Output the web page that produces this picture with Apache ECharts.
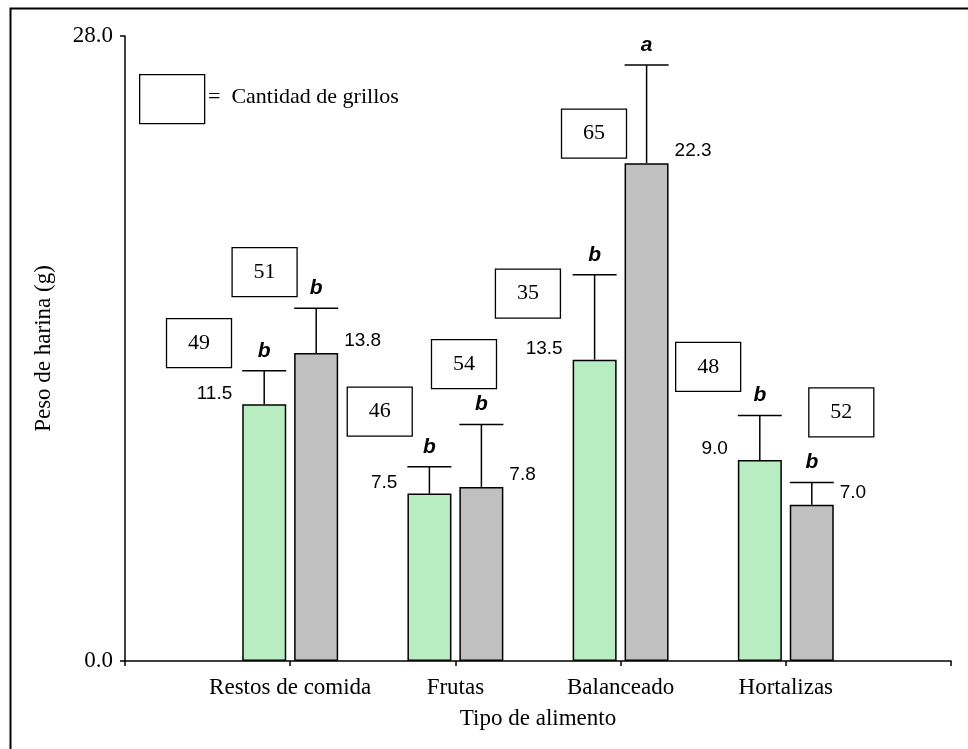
<!DOCTYPE html>
<html>
<head>
<meta charset="utf-8">
<script src="https://cdn.jsdelivr.net/npm/echarts@6/dist/echarts.min.js"></script>
<style>
  html, body { margin: 0; padding: 0; background: #fff; }
  #chart { width: 968px; height: 749px; }
</style>
</head>
<body>
<div id="chart"></div>
<script>
// Food types on the x axis
const categories = ['Restos de comida', 'Frutas', 'Balanceado', 'Hortalizas'];
// Mean flour weight (g) for each group
const greenMeans = [11.5, 7.5, 13.5, 9.0];
const grayMeans = [13.8, 7.8, 22.3, 7.0];
// Upper error (g)
const greenErr = [1.5, 1.2, 3.8, 2.0];
const grayErr = [2.0, 2.8, 4.4, 1.0];
// Significance letters
const greenLetters = ['b', 'b', 'b', 'b'];
const grayLetters = ['b', 'b', 'a', 'b'];
// Number of crickets per bar
const greenCounts = [49, 46, 35, 48];
const grayCounts = [51, 54, 65, 52];
// Y axis range
const yTicks = [0, 28];

// Where each count box sits, in axis units [category position, weight]
const greenBoxAt = [[0.448, 14.24], [1.542, 11.17], [2.439, 16.46], [3.530, 13.18]];
const grayBoxAt = [[0.845, 17.42], [2.052, 13.30], [2.839, 23.63], [4.336, 11.14]];

const axisCats = [''].concat(categories, ['']);
const BAR_W = 44;
const HALF_PAIR = 26; // distance from tick to each bar centre
const serif = 'Liberation Serif';
const sans = 'Liberation Sans';

const chart = echarts.init(document.getElementById('chart'), null, { renderer: 'canvas' });

function barData(values) {
  return ['-'].concat(values, ['-']);
}

function errRows(means, errs, letters) {
  return means.map((m, i) => [i + 1, m, m + errs[i], letters[i]]);
}

function boxRows(pos, counts) {
  return pos.map((p, i) => [p[0], p[1], counts[i]]);
}

function errorRenderer(dir) {
  return function (params, api) {
    const cx = api.coord([api.value(0), 0])[0] + dir * HALF_PAIR;
    const yMean = api.coord([api.value(0), api.value(1)])[1];
    const yTop = api.coord([api.value(0), api.value(2)])[1];
    const letter = (dir < 0 ? greenLetters : grayLetters)[params.dataIndex];
    const st = { stroke: '#000', lineWidth: 1.5 };
    return {
      type: 'group',
      children: [
        { type: 'line', shape: { x1: cx, y1: yMean, x2: cx, y2: yTop }, style: st },
        { type: 'line', shape: { x1: cx - BAR_W / 2, y1: yTop, x2: cx + BAR_W / 2, y2: yTop }, style: st },
        {
          type: 'text', x: cx, y: yTop - 20,
          style: {
            text: letter, fill: '#000', align: 'center', verticalAlign: 'middle',
            font: 'italic bold 21px "' + sans + '"'
          }
        }
      ]
    };
  };
}

function boxRenderer(params, api) {
  const p0 = api.coord([0, api.value(1)]);
  const p5 = api.coord([5, api.value(1)]);
  const x = p0[0] + (p5[0] - p0[0]) * api.value(0) / 5;
  const y = p0[1];
  const w = 65, h = 49;
  return {
    type: 'group',
    children: [
      {
        type: 'rect', shape: { x: x - w / 2, y: y - h / 2, width: w, height: h },
        style: { fill: '#fff', stroke: '#000', lineWidth: 1.3 }
      },
      {
        type: 'text', x: x, y: y,
        style: {
          text: String(api.value(2)), fill: '#000', align: 'center', verticalAlign: 'middle',
          font: '22px "' + serif + '"'
        }
      }
    ]
  };
}

const option = {
  backgroundColor: '#fff',
  animation: false,
  grid: { left: 125, right: 17, top: 36, bottom: 88 },
  xAxis: {
    type: 'category',
    data: axisCats,
    boundaryGap: false,
    name: 'Tipo de alimento',
    nameLocation: 'middle',
    nameGap: 46,
    nameTextStyle: { fontFamily: serif, fontSize: 23, color: '#000' },
    axisLine: { lineStyle: { color: '#000', width: 1.5 } },
    axisTick: { show: true, interval: 0, length: 5, lineStyle: { color: '#000', width: 1.5 } },
    axisLabel: { interval: 0, margin: 15, fontFamily: serif, fontSize: 23, color: '#000' },
    splitLine: { show: false }
  },
  yAxis: {
    type: 'value',
    min: yTicks[0],
    max: yTicks[1],
    interval: yTicks[1] - yTicks[0],
    name: 'Peso de harina (g)',
    nameLocation: 'middle',
    nameGap: 70,
    nameTextStyle: { fontFamily: serif, fontSize: 23, color: '#000' },
    axisLine: { show: true, lineStyle: { color: '#000', width: 1.5 } },
    axisTick: { show: true, length: 5, lineStyle: { color: '#000', width: 1.5 } },
    axisLabel: {
      margin: 12, fontFamily: serif, fontSize: 23, color: '#000',
      formatter: v => v.toFixed(1)
    },
    splitLine: { show: false }
  },
  series: [
    {
      name: 'grupo verde',
      type: 'bar',
      data: barData(greenMeans),
      barWidth: BAR_W,
      barGap: '18%',
      itemStyle: { color: '#b8ecc1', borderColor: '#000', borderWidth: 1.5 },
      label: {
        show: true, position: [-10, -11], align: 'right', verticalAlign: 'middle',
        fontFamily: sans, fontSize: 19, color: '#000',
        formatter: p => Number(p.value).toFixed(1)
      },
      z: 2
    },
    {
      name: 'grupo gris',
      type: 'bar',
      data: barData(grayMeans),
      barWidth: BAR_W,
      itemStyle: { color: '#c0c0c0', borderColor: '#000', borderWidth: 1.5 },
      label: {
        show: true, position: [BAR_W + 6, -12], align: 'left', verticalAlign: 'middle',
        fontFamily: sans, fontSize: 19, color: '#000',
        formatter: p => Number(p.value).toFixed(1)
      },
      z: 2
    },
    {
      type: 'custom',
      renderItem: errorRenderer(-1),
      data: errRows(greenMeans, greenErr, greenLetters),
      encode: { x: 0, y: [1, 2] },
      z: 3
    },
    {
      type: 'custom',
      renderItem: errorRenderer(1),
      data: errRows(grayMeans, grayErr, grayLetters),
      encode: { x: 0, y: [1, 2] },
      z: 3
    },
    {
      type: 'custom',
      renderItem: boxRenderer,
      data: boxRows(greenBoxAt, greenCounts),
      encode: { x: 0, y: 1 },
      clip: false,
      z: 4
    },
    {
      type: 'custom',
      renderItem: boxRenderer,
      data: boxRows(grayBoxAt, grayCounts),
      encode: { x: 0, y: 1 },
      clip: false,
      z: 4
    }
  ],
  graphic: [
    {
      type: 'rect', left: 8, top: 6, z: 0,
      shape: { width: 1000, height: 800 },
      style: { fill: 'none', stroke: '#000', lineWidth: 2 }
    },
    {
      type: 'rect', left: 139, top: 74, z: 10,
      shape: { width: 65, height: 49 },
      style: { fill: '#fff', stroke: '#000', lineWidth: 1.3 }
    },
    {
      type: 'text', left: 208, top: 86, z: 10,
      style: { text: '=  Cantidad de grillos', fill: '#000', font: '22px "' + serif + '"' }
    }
  ]
};

chart.setOption(option);
</script>
</body>
</html>
